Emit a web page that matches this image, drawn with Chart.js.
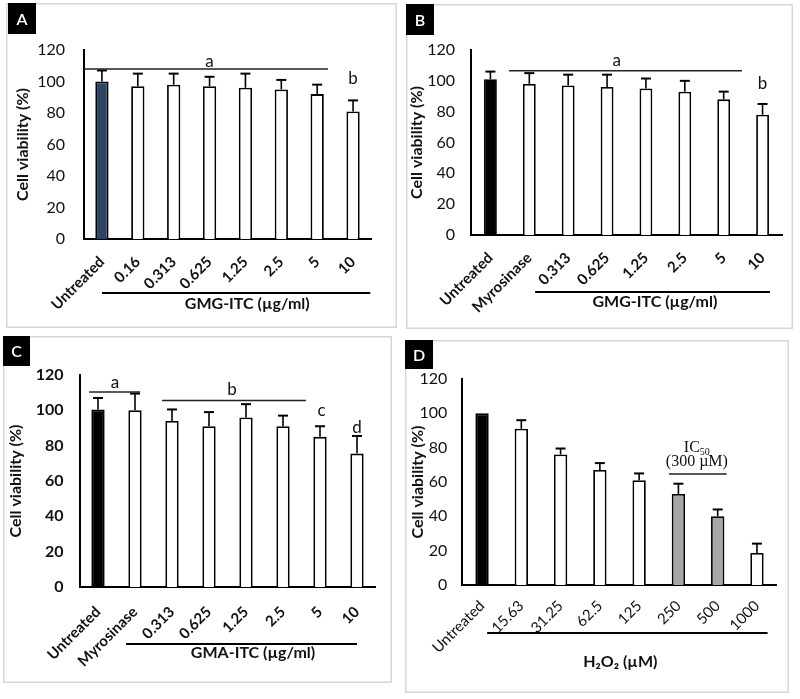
<!DOCTYPE html>
<html><head><meta charset="utf-8">
<script src="https://cdn.jsdelivr.net/npm/chart.js@4.4.0/dist/chart.umd.min.js"></script>
<style>
body{margin:0;background:#fff;width:800px;height:699px;position:relative;overflow:hidden}
canvas{position:absolute}
</style></head><body>
<canvas id="cA"></canvas><canvas id="cB"></canvas><canvas id="cC"></canvas><canvas id="cD"></canvas>
<script>
// ---------- data ----------
const yTicks = [0, 20, 40, 60, 80, 100, 120];

const catsA = ['Untreated', '0.16', '0.313', '0.625', '1.25', '2.5', '5', '10'];
const valsA = [100, 97, 98, 97, 96, 95, 92, 81];
const errA  = [7, 8, 7, 6, 9, 6, 6, 7];

const catsB = ['Untreated', 'Myrosinase', '0.313', '0.625', '1.25', '2.5', '5', '10'];
const valsB = [101, 98, 97, 96, 95, 93, 88, 78];
const errB  = [5, 7, 7, 8, 6.5, 7, 5, 7];

const catsC = ['Untreated', 'Myrosinase', '0.313', '0.625', '1.25', '2.5', '5', '10'];
const valsC = [100.5, 100, 94, 91, 96, 91, 85, 75.5];
const errC  = [6.5, 9.5, 6.5, 8, 7.5, 6, 6, 10];

const catsD = ['Untreated', '15.63', '31.25', '62.5', '125', '250', '500', '1000'];
const valsD = [100, 91, 76, 67, 61, 53, 40, 18.6];
const errD  = [0, 5, 3.5, 4, 4, 6, 4, 5.5];

// significance lines: [fromIndex, toIndex, value]
const sigA = [[-0.5, 6.3, 108]];
const sigB = [[0.48, 6.47, 106.6]];
const sigC = [[-0.24, 1.14, 110.4], [1.73, 5.62, 105.5]];
const sigD = [[4.76, 6.23, 64.6]];
// letters: [text, index, value]
const letA = [['a', 3, 113], ['b', 7, 102]];
const letB = [['a', 3.25, 113.5], ['b', 7, 98]];
const letC = [['a', 0.46, 116], ['b', 3.62, 112], ['c', 6.04, 100], ['d', 7.0, 90.5]];
const letD = [];
// group underline: [fromIndex, toIndex, labelIndex]
const grpA = [0.0, 7.48, 4.05];
const grpB = [1.15, 7.19, 4.23];
const grpC = [0.76, 7.0, 4.19];
const grpD = [0.13, 7.27, 3.52];

// ---------- styles ----------
const FONT = 'Lato, "Open Sans", sans-serif';
const colA = ['#2b4566', '#fff', '#fff', '#fff', '#fff', '#fff', '#fff', '#fff'];
const colB = ['#000', '#fff', '#fff', '#fff', '#fff', '#fff', '#fff', '#fff'];
const colC = colB;
const colD = ['#000', '#fff', '#fff', '#fff', '#fff', '#a6a6a6', '#a6a6a6', '#fff'];

function makePanel(cfg) {
  const cv = document.getElementById(cfg.id);
  const [bx, by, bw, bh] = cfg.box;
  const [al, at, ar, ab] = cfg.area;
  cv.style.left = bx + 'px'; cv.style.top = by + 'px';
  cv.width = bw; cv.height = bh;
  cv.style.width = bw + 'px'; cv.style.height = bh + 'px';

  const deco = {
    id: 'deco',
    beforeDraw(chart) {
      const c = chart.ctx;
      c.save();
      c.fillStyle = '#fff'; c.fillRect(0, 0, bw, bh);
      c.strokeStyle = '#d6d6d6'; c.lineWidth = 1.5;
      c.strokeRect(0.75, 0.75, bw - 1.5, bh - 1.5);
      c.restore();
    },
    afterDraw(chart) {
      const c = chart.ctx, x = chart.scales.x, y = chart.scales.y;
      const ca = chart.chartArea;
      c.save();
      // error bars
      c.strokeStyle = '#000'; c.lineWidth = 1.6;
      cfg.errs.forEach((e, i) => {
        if (!e) return;
        const px = x.getPixelForValue(i);
        const y1 = y.getPixelForValue(cfg.vals[i]);
        const y2 = y.getPixelForValue(cfg.vals[i] + e);
        c.beginPath(); c.moveTo(px, y1); c.lineTo(px, y2); c.stroke();
        c.lineWidth = 2;
        c.beginPath(); c.moveTo(px - 5, y2); c.lineTo(px + 5, y2); c.stroke();
        c.lineWidth = 1.6;
      });
      // significance lines
      c.lineWidth = 1.5; c.strokeStyle = '#222';
      cfg.sig.forEach(([a, b, v]) => {
        const yy = y.getPixelForValue(v);
        c.beginPath(); c.moveTo(x.getPixelForValue(a), yy); c.lineTo(x.getPixelForValue(b), yy); c.stroke();
      });
      c.fillStyle = '#111'; c.textAlign = 'center'; c.textBaseline = 'middle';
      c.font = '17px ' + FONT;
      cfg.letters.forEach(([t, i, v]) => c.fillText(t, x.getPixelForValue(i), y.getPixelForValue(v)));
      // group underline
      const [g0, g1, gl] = cfg.grp;
      c.lineWidth = 2.2; c.strokeStyle = '#000';
      const gy = ca.bottom + cfg.grpDy;
      c.beginPath(); c.moveTo(x.getPixelForValue(g0), gy); c.lineTo(x.getPixelForValue(g1), gy); c.stroke();
      c.font = 'bold 16px ' + FONT;
      c.fillText(cfg.grpText, x.getPixelForValue(gl), ca.bottom + cfg.grpLy);
      if (cfg.extra) cfg.extra(c, x, y);
      // panel label
      const [lx, ly, lw, lh] = cfg.lab;
      c.fillStyle = '#000'; c.fillRect(lx, ly, lw, lh);
      c.fillStyle = '#fff'; c.font = '600 16px ' + FONT;
      c.fillText(cfg.letter, lx + lw / 2, ly + lh / 2 + 1);
      c.restore();
    }
  };

  new Chart(cv, {
    type: 'bar',
    data: {
      labels: cfg.cats,
      datasets: [{
        data: cfg.vals,
        backgroundColor: cfg.colors,
        borderColor: '#000',
        borderWidth: 1.8,
        borderSkipped: 'bottom',
        barPercentage: cfg.barPct,
        categoryPercentage: 1
      }]
    },
    options: {
      responsive: false, animation: false, devicePixelRatio: 1,
      layout: { padding: { left: 0, top: at - by, right: bx + bw - ar, bottom: 0 } },
      plugins: { legend: { display: false }, tooltip: { enabled: false } },
      scales: {
        x: {
          grid: { display: false, drawTicks: false },
          border: { color: '#000', width: 2 },
          ticks: {
            color: '#111', autoSkip: false, minRotation: 45, maxRotation: 45,
            padding: cfg.xPad, font: { family: FONT, size: 15, weight: cfg.xWeight }
          },
          afterFit(s) { s.height = by + bh - ab; }
        },
        y: {
          min: 0, max: 120,
          afterBuildTicks(s) { s.ticks = yTicks.map(v => ({ value: v })); },
          grid: { display: false, drawTicks: false },
          border: { color: '#000', width: 2 },
          ticks: { color: '#111', padding: cfg.yPad, font: { family: FONT, size: 16, weight: cfg.yWeight } },
          title: { display: true, text: 'Cell viability (%)', color: '#111',
                   font: { family: FONT, size: 16, weight: 'bold' }, padding: { top: cfg.tPad, bottom: 0 } },
          afterFit(s) { s.width = al - bx; }
        }
      }
    },
    plugins: [deco]
  });
}

makePanel({ id: 'cA', box: [6, 3, 391, 325], area: [84, 50, 371, 239], cats: catsA, vals: valsA, errs: errA,
  colors: colA, barPct: 0.37, sig: sigA, letters: letA, grp: grpA, grpDy: 54, grpLy: 65, grpText: 'GMG-ITC (µg/ml)',
  lab: [2, 0, 28, 31], letter: 'A', xPad: 14, yPad: 19, tPad: 7, xWeight: 'bold', yWeight: 'normal' });

makePanel({ id: 'cB', box: [406, 4, 387, 325], area: [471, 50, 782, 235], cats: catsB, vals: valsB, errs: errB,
  colors: colB, barPct: 0.33, sig: sigB, letters: letB, grp: grpB, grpDy: 57, grpLy: 67, grpText: 'GMG-ITC (µg/ml)',
  lab: [0, 0, 28, 31], letter: 'B', xPad: 14, yPad: 16, tPad: 1, xWeight: 'bold', yWeight: 'normal' });

makePanel({ id: 'cC', box: [3, 336, 389, 347], area: [79.5, 375, 375.5, 587], cats: catsC, vals: valsC, errs: errC,
  colors: colC, barPct: 0.36, sig: sigC, letters: letC, grp: grpC, grpDy: 57, grpLy: 66, grpText: 'GMA-ITC (µg/ml)',
  lab: [0, 0, 27, 30], letter: 'C', xPad: 16, yPad: 16, tPad: 3, xWeight: 'bold', yWeight: 'bold' });

makePanel({ id: 'cD', box: [405, 340, 384, 353], area: [462.4, 379, 776.6, 585], cats: catsD, vals: valsD, errs: errD,
  colors: colD, barPct: 0.34, sig: sigD, letters: letD, grp: grpD, grpDy: 48, grpLy: 77, grpText: 'H₂O₂ (µM)',
  lab: [0, 0, 28, 29], letter: 'D', xPad: 12, yPad: 15, tPad: 3, xWeight: 'normal', yWeight: 'normal',
  extra(c, x, y) {
    c.fillStyle = '#111'; c.textBaseline = 'middle';
    const cx = x.getPixelForValue(5.47), y1 = y.getPixelForValue(79.8), y2 = y.getPixelForValue(71.6);
    c.font = '16px "Liberation Serif", serif';
    const w1 = c.measureText('IC').width;
    c.font = '10px "Liberation Serif", serif';
    const w2 = c.measureText('50').width;
    const sx = cx - (w1 + w2) / 2;
    c.textAlign = 'left';
    c.font = '16px "Liberation Serif", serif';
    c.fillText('IC', sx, y1);
    c.font = '10px "Liberation Serif", serif';
    c.fillText('50', sx + w1, y1 + 4);
    c.textAlign = 'center';
    c.font = '16px "Liberation Serif", serif';
    c.fillText('(300 µM)', cx, y2);
  } });
</script>
</body></html>
